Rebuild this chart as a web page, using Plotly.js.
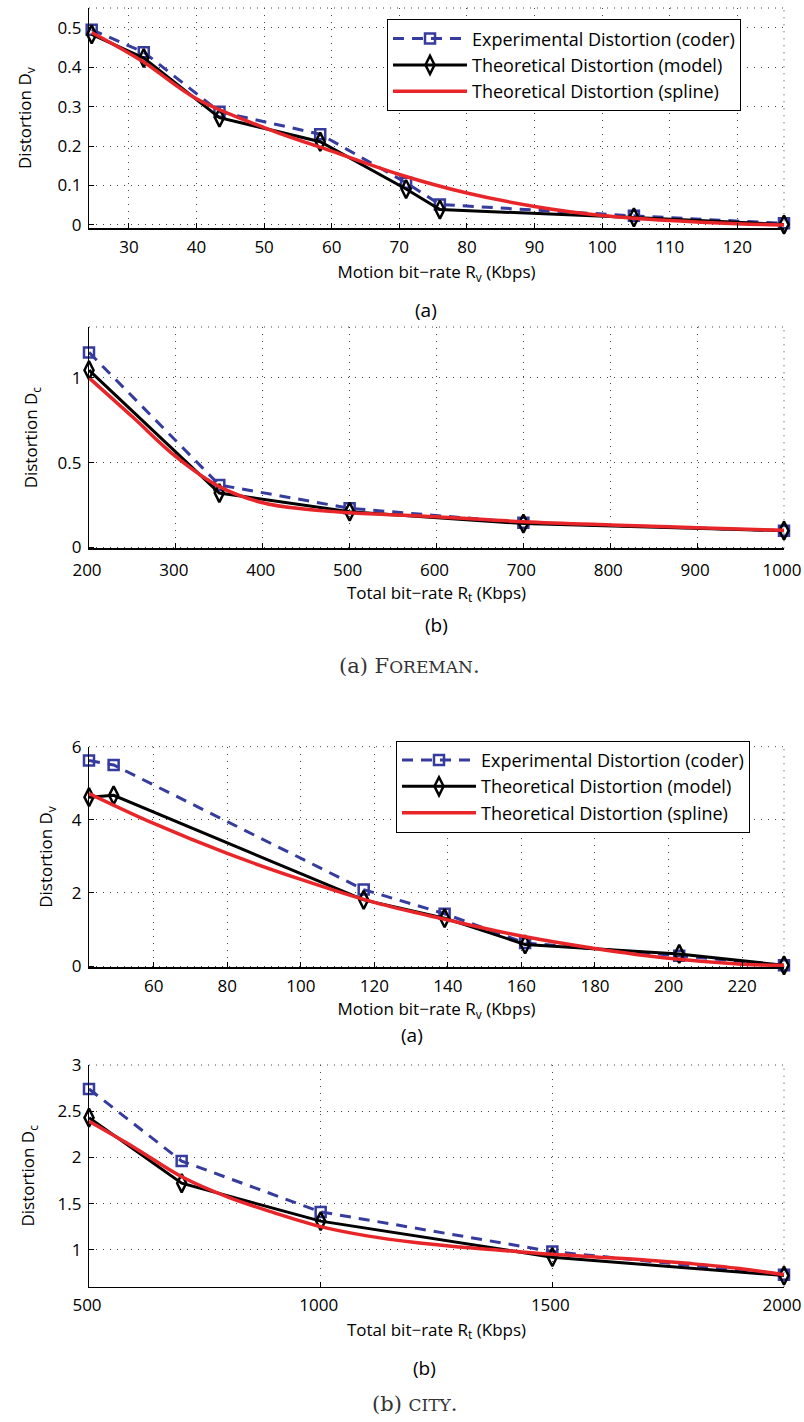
<!DOCTYPE html>
<html><head><meta charset="utf-8">
<script src="https://cdn.plot.ly/plotly-3.0.1.min.js"></script>
<style>html,body{margin:0;padding:0;background:#fff}</style>
</head><body><div id="chart" style="width:804px;height:1422px"></div>
<script>
// ---------- DATA ----------
// (a) Foreman – motion bit-rate
const fmX      = [24.5, 32.2, 43.4, 58.3, 71.0, 76.0, 104.7, 126.9];
const fmExp    = [0.495, 0.438, 0.287, 0.230, 0.107, 0.052, 0.023, 0.004];
const fmModel  = [0.483, 0.423, 0.272, 0.211, 0.091, 0.039, 0.019, 0.001];
const fmSplX   = [24.5, 32, 40, 50, 60, 70, 80, 90, 100, 110, 120, 126.9];
const fmSplY   = [0.488, 0.415, 0.320, 0.247, 0.187, 0.128, 0.081, 0.047, 0.024, 0.011, 0.003, 0.0];
// (a) Foreman – total bit-rate
const ftX      = [200, 350, 500, 700, 1000];
const ftExp    = [1.15, 0.368, 0.230, 0.145, 0.098];
const ftModel  = [1.045, 0.320, 0.210, 0.140, 0.098];
const ftSplX   = [200, 250, 300, 350, 400, 450, 500, 600, 700, 800, 900, 1000];
const ftSplY   = [1.0, 0.77, 0.535, 0.358, 0.263, 0.224, 0.204, 0.180, 0.151, 0.132, 0.116, 0.100];
// (b) City – motion bit-rate
const cmX      = [42.4, 49.1, 117.1, 139.1, 161.0, 202.9, 231.4];
const cmExp    = [5.62, 5.50, 2.09, 1.43, 0.63, 0.28, 0.02];
const cmModel  = [4.62, 4.67, 1.81, 1.31, 0.59, 0.33, 0.02];
const cmSplX   = [42.4, 60, 80, 100, 120, 140, 160, 180, 200, 220, 231.4];
const cmSplY   = [4.72, 3.90, 3.08, 2.37, 1.74, 1.26, 0.82, 0.48, 0.21, 0.05, 0.02];
// (b) City – total bit-rate
const ctX      = [500, 700, 1000, 1500, 2000];
const ctExp    = [2.74, 1.96, 1.41, 0.98, 0.73];
const ctModel  = [2.43, 1.72, 1.31, 0.92, 0.72];
const ctSplX   = [500, 600, 700, 800, 900, 1000, 1100, 1200, 1300, 1400, 1500, 1600, 1700, 1800, 1900, 2000];
const ctSplY   = [2.39, 2.10, 1.79, 1.57, 1.40, 1.25, 1.15, 1.08, 1.03, 0.99, 0.95, 0.92, 0.89, 0.85, 0.80, 0.73];

const seriesNames = ['Experimental Distortion (coder)', 'Theoretical Distortion (model)', 'Theoretical Distortion (spline)'];

// ---------- STYLE ----------
const FONT = '"Open Sans", Lato, sans-serif';
const SERIF = '"DejaVu Serif", "Liberation Serif", serif';
const BLUE = '#363b9e', RED = '#e8262a';
const W = 804, H = 1422;
const py = p => 1 - p / H;
const px = p => p / W;

function traces(xa, ya, x, e, m, sx, sy, legend, show) {
  return [
    {x: x, y: e, xaxis: xa, yaxis: ya, name: seriesNames[0], legend: legend, showlegend: show, legendgroup: legend + 'e',
     mode: 'lines+markers', cliponaxis: false, line: {color: BLUE, width: 3, dash: '11px,8px'},
     marker: {symbol: 'square-open', size: 10, color: BLUE, line: {color: BLUE, width: 2.5}}},
    {x: x, y: m, xaxis: xa, yaxis: ya, name: seriesNames[1], legend: legend, showlegend: show, legendgroup: legend + 'm',
     mode: 'lines+markers', cliponaxis: false, line: {color: '#000', width: 3},
     marker: {symbol: 'diamond-tall-open', size: 13, color: '#000', line: {color: '#000', width: 2.5}}},
    {x: sx, y: sy, xaxis: xa, yaxis: ya, name: seriesNames[2], legend: legend, showlegend: show, legendgroup: legend + 's',
     mode: 'lines', cliponaxis: false, line: {color: RED, width: 3.5, shape: 'spline', smoothing: 1}}
  ];
}

const data = [].concat(
  traces('x', 'y', fmX, fmExp, fmModel, fmSplX, fmSplY, 'legend', true),
  traces('x2', 'y2', ftX, ftExp, ftModel, ftSplX, ftSplY, 'legend', false),
  traces('x3', 'y3', cmX, cmExp, cmModel, cmSplX, cmSplY, 'legend2', true),
  traces('x4', 'y4', ctX, ctExp, ctModel, ctSplX, ctSplY, 'legend2', false)
);

function axis(o) {
  return Object.assign({
    showline: true, linecolor: '#000', linewidth: 1.2, mirror: false,
    ticks: 'inside', ticklen: 5, tickwidth: 1, tickcolor: '#000',
    showgrid: true, gridcolor: '#444', gridwidth: 1, griddash: '1px,6px',
    zeroline: false, tickfont: {family: FONT, size: 17, color: '#000'},
    ticklabeloverflow: 'allow', ticklabelstandoff: 3,
    fixedrange: true
  }, o);
}
const xd = [px(89), px(784)];
const dom1 = [py(228.3), py(8)];
const dom2 = [py(548.3), py(327)];
const dom3 = [py(967.3), py(746.7)];
const dom4 = [py(1286.7), py(1065)];
const tfont = {family: FONT, size: 17, color: '#000'};

const layout = {
  width: W, height: H, margin: {l: 0, r: 0, t: 0, b: 0},
  paper_bgcolor: '#fff', plot_bgcolor: '#fff',
  font: {family: FONT, size: 17, color: '#000'},
  xaxis: axis({domain: xd, anchor: 'y', range: [24.1, 126.9], tickvals: [30,40,50,60,70,80,90,100,110,120],
    title: {text: 'Motion bit\u2212rate R<sub>v</sub> (Kbps)', font: tfont, standoff: 9}}),
  yaxis: axis({domain: dom1, anchor: 'x', range: [-0.0085, 0.55], tickvals: [0,0.1,0.2,0.3,0.4,0.5],
    title: {text: 'Distortion D<sub>v</sub>', font: tfont, standoff: 21}}),
  xaxis2: axis({domain: xd, anchor: 'y2', range: [200, 1000], tickvals: [200,300,400,500,600,700,800,900,1000],
    ticklabelshift: -2, ticklabelstandoff: 6,
    title: {text: 'Total bit\u2212rate R<sub>t</sub> (Kbps)', font: tfont, standoff: 5}}),
  yaxis2: axis({domain: dom2, anchor: 'x2', range: [-0.006, 1.3], tickvals: [0,0.5,1],
    title: {text: 'Distortion D<sub>c</sub>', font: tfont, standoff: 15}}),
  xaxis3: axis({domain: xd, anchor: 'y3', range: [42.4, 231.4], tickvals: [60,80,100,120,140,160,180,200,220],
    title: {text: 'Motion bit\u2212rate R<sub>v</sub> (Kbps)', font: tfont, standoff: 7}}),
  yaxis3: axis({domain: dom3, anchor: 'x3', range: [-0.035, 6], tickvals: [0,2,4,6],
    title: {text: 'Distortion D<sub>v</sub>', font: tfont, standoff: 14}}),
  xaxis4: axis({domain: xd, anchor: 'y4', range: [500, 2000], tickvals: [500,1000,1500,2000],
    ticklabelshift: -2,
    title: {text: 'Total bit\u2212rate R<sub>t</sub> (Kbps)', font: tfont, standoff: 8}}),
  yaxis4: axis({domain: dom4, anchor: 'x4', range: [0.6, 3], tickvals: [1,1.5,2,2.5,3],
    title: {text: 'Distortion D<sub>c</sub>', font: tfont, standoff: 18}}),
  legend: {x: px(387), y: py(19.3), xanchor: 'left', yanchor: 'top', bgcolor: '#fff',
    bordercolor: '#000', borderwidth: 1, font: {family: FONT, size: 18, color: '#000'},
    itemwidth: 74, tracegroupgap: 0, traceorder: 'normal'},
  legend2: {x: px(396), y: py(740.7), xanchor: 'left', yanchor: 'top', bgcolor: '#fff',
    bordercolor: '#000', borderwidth: 1, font: {family: FONT, size: 18, color: '#000'},
    itemwidth: 74, tracegroupgap: 0, traceorder: 'normal'},
  shapes: [],
  annotations: [
    {text: '(a)', xref: 'paper', yref: 'paper', x: px(426), y: py(310), showarrow: false, xanchor: 'center', yanchor: 'middle', font: {family: FONT, size: 19}},
    {text: '(b)', xref: 'paper', yref: 'paper', x: px(436), y: py(625), showarrow: false, xanchor: 'center', yanchor: 'middle', font: {family: FONT, size: 19}},
    {text: '(a)', xref: 'paper', yref: 'paper', x: px(412), y: py(1035), showarrow: false, xanchor: 'center', yanchor: 'middle', font: {family: FONT, size: 19}},
    {text: '(b)', xref: 'paper', yref: 'paper', x: px(425), y: py(1368), showarrow: false, xanchor: 'center', yanchor: 'middle', font: {family: FONT, size: 19}},
    {text: '(a) F<span style="font-size:17px">OREMAN</span>.', xref: 'paper', yref: 'paper', x: px(410), y: py(666), showarrow: false, xanchor: 'center', yanchor: 'middle', font: {family: SERIF, size: 21, color: '#333'}},
    {text: '(b) <span style="font-size:17px">CITY</span>.', xref: 'paper', yref: 'paper', x: px(415), y: py(1404), showarrow: false, xanchor: 'center', yanchor: 'middle', font: {family: SERIF, size: 21, color: '#333'}}
  ]
};
// dotted top / right borders
['', '2', '3', '4'].forEach(s => {
  layout.shapes.push({type: 'line', xref: 'x' + s + ' domain', yref: 'y' + s + ' domain', x0: 0, x1: 1, y0: 1, y1: 1,
    line: {color: '#444', width: 1, dash: '1px,6px'}, layer: 'below'});
  layout.shapes.push({type: 'line', xref: 'x' + s + ' domain', yref: 'y' + s + ' domain', x0: 1, x1: 1, y0: 0, y1: 1,
    line: {color: '#444', width: 1, dash: '1px,6px'}, layer: 'below'});
});

Plotly.newPlot('chart', data, layout, {displayModeBar: false, staticPlot: true});
</script></body></html>
